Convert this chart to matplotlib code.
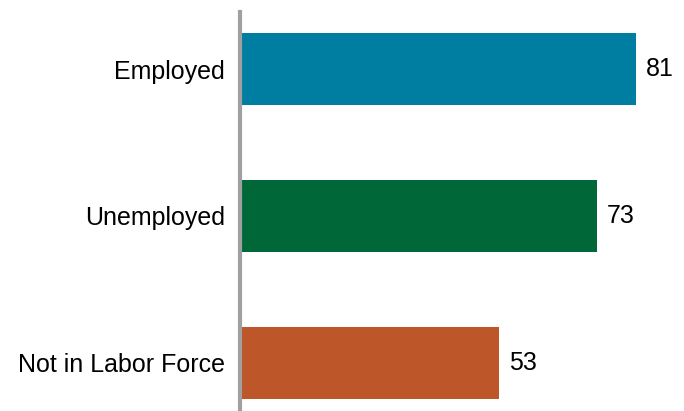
import matplotlib
matplotlib.use('Agg')
import matplotlib.pyplot as plt

categories = ['Employed', 'Unemployed', 'Not in Labor Force']
values = [81, 73, 53]
colors = ['#007EA1', '#006838', '#BD5628']

plt.rcParams['font.family'] = ['Liberation Sans', 'DejaVu Sans']

fig = plt.figure(figsize=(6.84, 4.11), dpi=100)
# axes placed so the spine sits at x=240px, top at 12px
ax = fig.add_axes([240 / 684, 0.0, 440 / 684, 399 / 411])

y = range(len(categories))
bars = ax.barh(y, values, height=0.49, color=colors)

for b, v in zip(bars, values):
    ax.text(b.get_width() + 2.0, b.get_y() + b.get_height() / 2, str(v),
            va='center', ha='left', fontsize=18, color='black')

ax.set_yticks(list(y))
ax.set_yticklabels(categories, fontsize=18)
ax.tick_params(axis='y', length=0, pad=11)
ax.set_xticks([])
ax.set_xlim(0, 90)
ax.set_ylim(2.33, -0.39)

for s in ['top', 'right', 'bottom']:
    ax.spines[s].set_visible(False)
ax.spines['left'].set_color('#A0A0A0')
ax.spines['left'].set_linewidth(3)

fig.savefig('out.png', dpi=100)
